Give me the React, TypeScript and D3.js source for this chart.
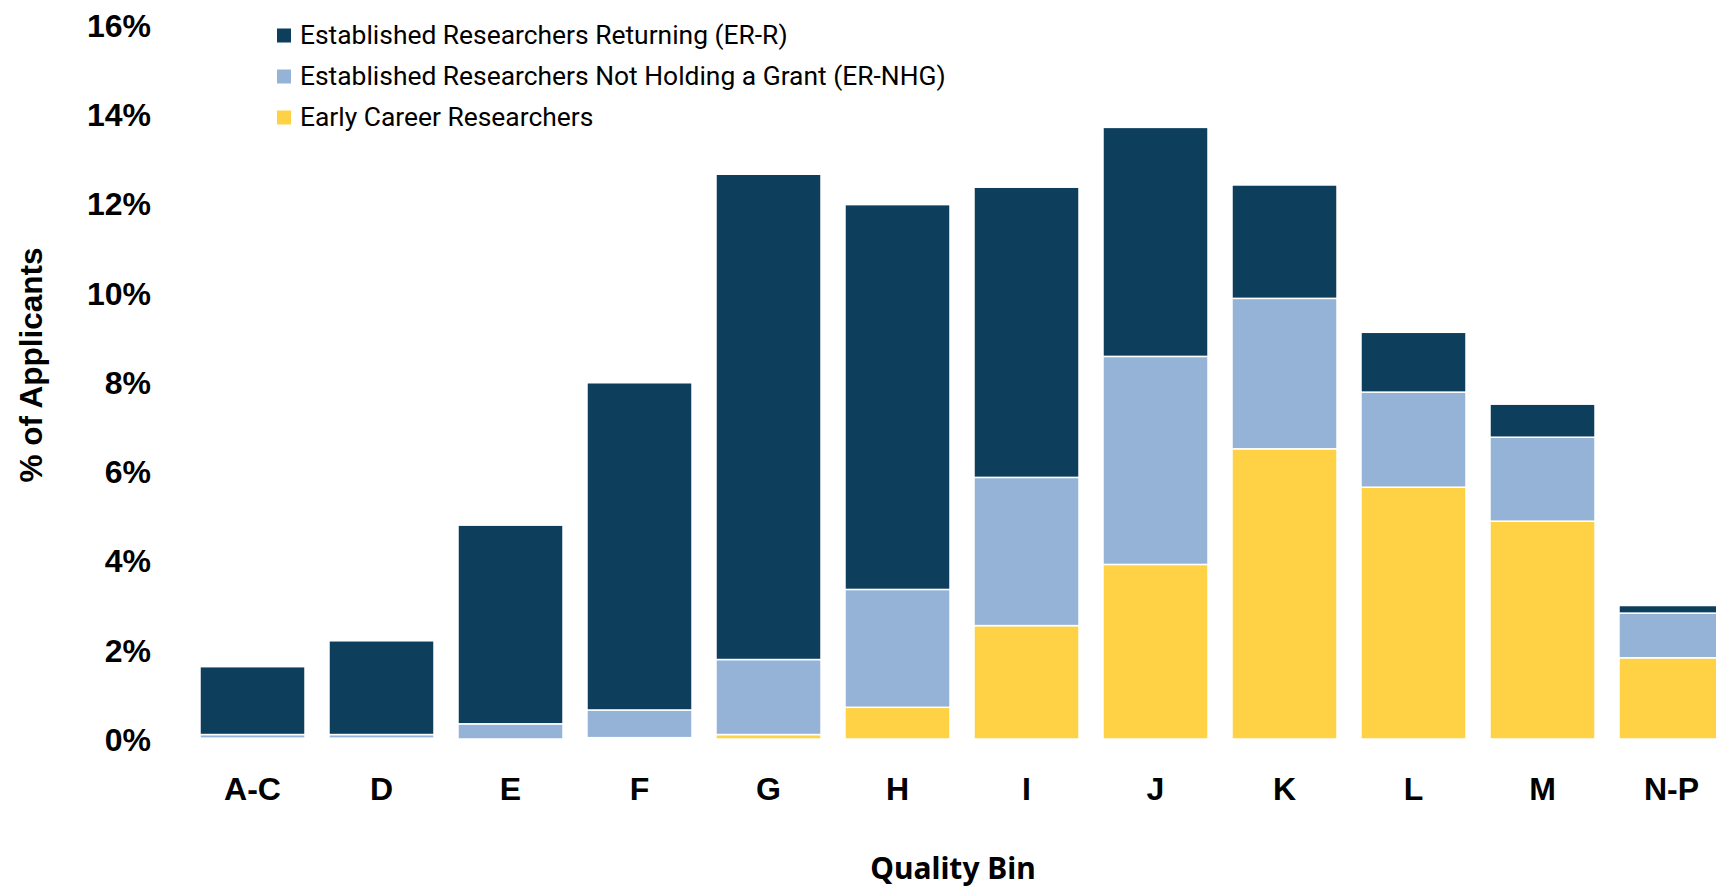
import React, { useEffect, useRef } from 'react';
import * as d3 from 'd3';

const bins = ['A-C', 'D', 'E', 'F', 'G', 'H', 'I', 'J', 'K', 'L', 'M', 'N-P'];
const earlyCareer = [0.02, 0.02, 0.0, 0.03, 0.1, 0.71, 2.54, 3.91, 6.5, 5.64, 4.88, 1.82];
const erNotHolding = [0.08, 0.08, 0.34, 0.62, 1.68, 2.64, 3.32, 4.66, 3.37, 2.13, 1.88, 1.0];
const erReturning = [1.52, 2.1, 4.45, 7.33, 10.87, 8.62, 6.5, 5.13, 2.54, 1.34, 0.74, 0.17];
const yTicks = [0, 2, 4, 6, 8, 10, 12, 14, 16];

const seriesNames = [
  'Established Researchers Returning (ER-R)',
  'Established Researchers Not Holding a Grant (ER-NHG)',
  'Early Career Researchers'
];
const seriesColors = ['#0d3f5d', '#95b3d7', '#ffd246'];

export default function App() {
  const svgRef = useRef<SVGSVGElement>(null);

  useEffect(() => {
    if (!svgRef.current) return;
    const width = 1716;
    const height = 887;

    d3.select(svgRef.current).selectAll('*').remove();
    const svg = d3.select(svgRef.current)
      .attr('width', width)
      .attr('height', height);

    // stacked from bottom: early career, not holding, returning
    const rows = bins.map((b, i) => ({
      bin: b,
      ecr: earlyCareer[i],
      nhg: erNotHolding[i],
      err: erReturning[i]
    }));
    const stack = d3.stack<any>().keys(['ecr', 'nhg', 'err']);
    const layers = stack(rows);
    const colorByKey: Record<string, string> = {
      ecr: seriesColors[2],
      nhg: seriesColors[1],
      err: seriesColors[0]
    };

    const xScale = d3.scaleBand<string>()
      .domain(bins)
      .range([188, 188 + 12 * 129])
      .paddingInner(0.186)
      .paddingOuter(0.093);

    const yScale = d3.scaleLinear()
      .domain([0, 16])
      .range([739, 24.7]);

    // Bars
    svg.append('g')
      .selectAll('g')
      .data(layers)
      .enter()
      .append('g')
      .attr('fill', d => colorByKey[d.key])
      .selectAll('rect')
      .data(d => d)
      .enter()
      .append('rect')
      .attr('x', d => xScale(d.data.bin)!)
      .attr('width', xScale.bandwidth())
      .attr('y', d => yScale(d[1]))
      .attr('height', d => Math.max(0, yScale(d[0]) - yScale(d[1])))
      .attr('stroke', '#ffffff')
      .attr('stroke-width', 1.5);

    // Y axis labels
    const yAxis = svg.append('g')
      .attr('transform', 'translate(151,0)')
      .call(d3.axisLeft(yScale)
        .tickValues(yTicks)
        .tickSize(0)
        .tickPadding(0)
        .tickFormat(d => `${d}%`)
      );
    yAxis.select('.domain').remove();
    yAxis.selectAll('text')
      .attr('dy', '0.36em')
      .attr('font-family', '"Liberation Sans", Arial, sans-serif')
      .attr('font-weight', 'bold')
      .attr('font-size', '32px')
      .attr('fill', '#000');

    // X axis labels
    const xAxis = svg.append('g')
      .attr('transform', 'translate(0,777)')
      .call(d3.axisBottom(xScale).tickSize(0).tickPadding(0));
    xAxis.select('.domain').remove();
    xAxis.selectAll('text')
      .attr('font-family', '"Liberation Sans", Arial, sans-serif')
      .attr('font-weight', 'bold')
      .attr('font-size', '32px')
      .attr('fill', '#000');

    // Axis titles
    svg.append('text')
      .attr('x', 953)
      .attr('y', 879)
      .attr('text-anchor', 'middle')
      .attr('font-family', '"Noto Sans", sans-serif')
      .attr('font-weight', 'bold')
      .attr('font-size', '30px')
      .attr('fill', '#000')
      .text('Quality Bin');

    svg.append('text')
      .attr('transform', 'translate(42,365) rotate(-90)')
      .attr('text-anchor', 'middle')
      .attr('font-family', '"Liberation Sans Narrow", "Liberation Sans", sans-serif')
      .attr('font-weight', 'bold')
      .attr('font-size', '31px')
      .attr('textLength', 235)
      .attr('lengthAdjust', 'spacingAndGlyphs')
      .attr('fill', '#000')
      .text('% of Applicants');

    // Legend
    const legend = svg.append('g');
    const legendY = [35.5, 76.5, 117.5];
    seriesNames.forEach((name, i) => {
      legend.append('rect')
        .attr('x', 277)
        .attr('y', legendY[i] - 7)
        .attr('width', 14)
        .attr('height', 14)
        .attr('fill', seriesColors[i]);
      legend.append('text')
        .attr('x', 300)
        .attr('y', legendY[i])
        .attr('dy', '0.33em')
        .attr('font-family', 'Roboto, "Liberation Sans", sans-serif')
        .attr('font-size', '26.4px')
        .attr('fill', '#000')
        .text(name);
    });
  }, []);

  return (
    <div style={{ position: 'fixed', left: 0, top: 0, width: 1716, height: 887, background: '#fff', overflow: 'hidden' }}>
      <svg ref={svgRef} style={{ display: 'block' }}></svg>
    </div>
  );
}
